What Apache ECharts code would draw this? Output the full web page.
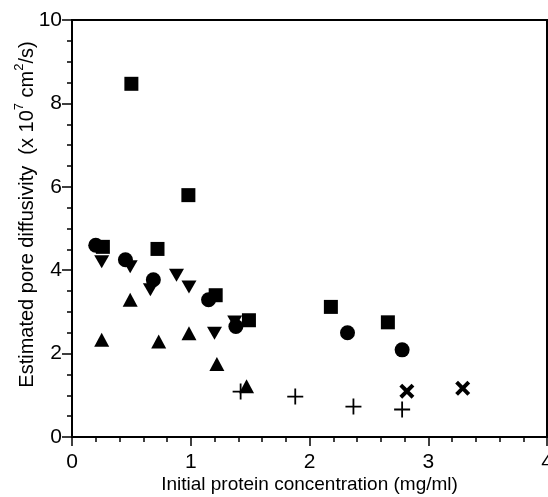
<!DOCTYPE html>
<html>
<head>
<meta charset="utf-8">
<script src="https://cdn.jsdelivr.net/npm/echarts@6/dist/echarts.min.js"></script>
<style>
html,body{margin:0;padding:0;background:#fff;}
#c{width:548px;height:497px;}
</style>
</head>
<body>
<div id="c"></div>
<script>
// Data (x: mg/ml, y: x10^7 cm^2/s)
var squares = [[0.26,4.56],[0.50,8.47],[0.72,4.51],[0.98,5.80],[1.21,3.40],[1.49,2.80],[2.18,3.12],[2.66,2.75]];
var circles = [[0.20,4.60],[0.45,4.25],[0.685,3.77],[1.15,3.29],[1.38,2.65],[2.32,2.50],[2.78,2.09]];
var downTriangles = [[0.25,4.20],[0.49,4.08],[0.66,3.53],[0.88,3.88],[0.985,3.60],[1.20,2.49],[1.37,2.76]];
var upTriangles = [[0.25,2.33],[0.49,3.29],[0.73,2.29],[0.985,2.49],[1.22,1.75],[1.47,1.22]];
var pluses = [[1.42,1.09],[1.88,0.97],[2.37,0.73],[2.78,0.66]];
var crosses = [[2.82,1.10],[3.29,1.17]];

var xTicks = [0,1,2,3,4];
var yTicks = [0,2,4,6,8,10];

var FONT = 'Liberation Sans';
var chart = echarts.init(document.getElementById('c'), null, {renderer:'canvas'});

var PLUS = 'path://M0,7.1 L16,7.1 L16,8.9 L0,8.9 Z M7.1,0 L8.9,0 L8.9,16 L7.1,16 Z';
var CROSS = 'path://M0,3 L3,0 L8,5 L13,0 L16,3 L11,8 L16,13 L13,16 L8,11 L3,16 L0,13 L5,8 Z';
var DOWN = 'path://M0,0 L10,0 L5,9 Z';

function sc(data, symbol, size) {
  return {type:'scatter', data:data, symbol:symbol, symbolSize:size,
          itemStyle:{color:'#000', opacity:1}, emphasis:{disabled:true}, silent:true};
}

chart.setOption({
  animation:false,
  backgroundColor:'#fff',
  grid:{left:72, top:20, right:1, bottom:60, outerBoundsMode:'none', containLabel:false,
        show:true, borderColor:'#000', borderWidth:2, backgroundColor:'transparent'},
  xAxis:{
    type:'value', min:0, max:4, interval:1,
    name:'Initial protein concentration (mg/ml)', nameLocation:'middle', nameGap:38, nameMoveOverlap:false,
    nameTextStyle:{fontFamily:FONT, fontSize:19, color:'#000'},
    axisLine:{show:true, lineStyle:{color:'#000', width:2}},
    axisTick:{show:true, length:9, lineStyle:{color:'#000', width:1.5}},
    minorTick:{show:true, splitNumber:5, length:5, lineStyle:{color:'#000', width:1.5}},
    axisLabel:{fontFamily:FONT, fontSize:21, color:'#000', margin:15,
      formatter:function(v){return xTicks.indexOf(v)>=0 ? String(v) : '';}},
    splitLine:{show:false}, minorSplitLine:{show:false}
  },
  yAxis:{
    type:'value', min:0, max:10, interval:2,
    name:'{t|Estimated pore diffusivity  (x 10}{s|7}{t| cm}{s|2}{t|/s)}', nameLocation:'middle', nameGap:35,
    nameMoveOverlap:false, nameRotate:90,
    nameTextStyle:{fontFamily:FONT, fontSize:20, color:'#000', padding:[0,0,0,28],
      rich:{t:{fontFamily:FONT, fontSize:20, color:'#000', lineHeight:24, verticalAlign:'bottom'},
            s:{fontFamily:FONT, fontSize:13, color:'#000', lineHeight:24, verticalAlign:'top', padding:[0,0,9,0]}}},
    axisLine:{show:true, lineStyle:{color:'#000', width:2}},
    axisTick:{show:true, length:10, lineStyle:{color:'#000', width:1.5}},
    minorTick:{show:true, splitNumber:4, length:5, lineStyle:{color:'#000', width:1.5}},
    axisLabel:{fontFamily:FONT, fontSize:21, color:'#000', margin:10,
      formatter:function(v){return yTicks.indexOf(v)>=0 ? String(v) : '';}},
    splitLine:{show:false}, minorSplitLine:{show:false}
  },
  series:[
    sc(squares, 'rect', 14),
    sc(circles, 'circle', 15),
    sc(downTriangles, DOWN, [15,13]),
    sc(upTriangles, 'triangle', [15,14]),
    sc(pluses, PLUS, 16),
    sc(crosses, CROSS, 15)
  ]
});
</script>
</body>
</html>
